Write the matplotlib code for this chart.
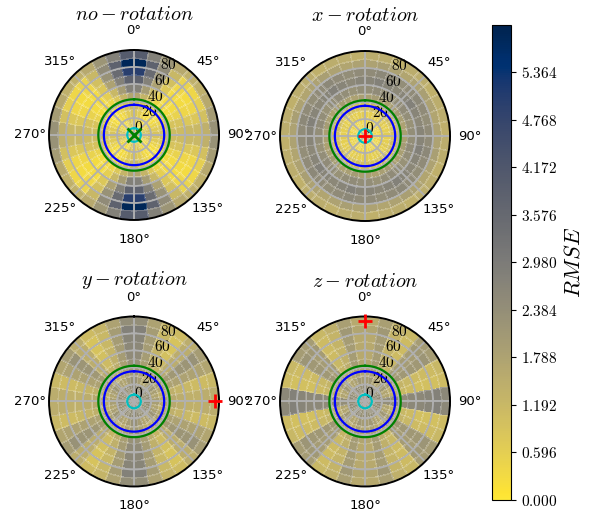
import numpy as np
import matplotlib
matplotlib.use('Agg')
import matplotlib.pyplot as plt
from matplotlib.ticker import FuncFormatter

plt.rcParams['mathtext.fontset'] = 'cm'

# ---------------- data ----------------
titles = ['$no-rotation$', '$x-rotation$', '$y-rotation$', '$z-rotation$']
theta_step_deg = 10
r_step = 10
r_max = 100
vmin, vmax = 0.0, 5.96
cbar_ticks = [0.000, 0.596, 1.192, 1.788, 2.384, 2.980, 3.576, 4.172, 4.768, 5.364]
r_ticks = [0, 20, 40, 60, 80]
circle_blue_r = 35.5
circle_green_r = 42
circle_cyan_r = 8

# marker (theta in degrees, r, marker, colour) per panel
markers = [(0, 0, 'x', 'g'), (0, 0, '+', 'r'), (90, 95, '+', 'r'), (0, 95, '+', 'r')]

# rows = radial bins (0-10 ... 90-100), columns = 10 deg theta bins clockwise from North
rmse_no_rotation = [
    [0.6,0.6,0.5,0.5,0.5,0.5,0.5,0.6,0.6, 0.6,0.6,0.5,0.5,0.5,0.5,0.5,0.6,0.6, 0.6,0.6,0.5,0.5,0.5,0.5,0.5,0.6,0.6, 0.6,0.6,0.5,0.5,0.5,0.5,0.5,0.6,0.6],
    [0.7,0.9,0.5,0.3,0.3,0.4,0.6,0.9,1.0, 1.0,0.9,0.6,0.4,0.3,0.3,0.5,0.9,0.7, 0.7,0.9,0.5,0.3,0.3,0.4,0.6,0.9,1.0, 1.0,0.9,0.6,0.4,0.3,0.3,0.5,0.9,0.7],
    [0.9,0.7,0.4,0.3,0.2,0.3,0.5,0.7,0.9, 0.9,0.7,0.5,0.3,0.2,0.3,0.4,0.7,0.9, 0.9,0.7,0.4,0.3,0.2,0.3,0.5,0.7,0.9, 0.9,0.7,0.5,0.3,0.2,0.3,0.4,0.7,0.9],
    [1.2,0.9,0.5,0.3,0.2,0.3,0.5,0.8,1.0, 1.0,0.8,0.5,0.3,0.2,0.3,0.5,0.9,1.2, 1.2,0.9,0.5,0.3,0.2,0.3,0.5,0.8,1.0, 1.0,0.8,0.5,0.3,0.2,0.3,0.5,0.9,1.2],
    [1.7,1.3,0.8,0.4,0.3,0.3,0.5,0.9,1.1, 1.1,0.9,0.5,0.3,0.3,0.4,0.8,1.3,1.7, 1.7,1.3,0.8,0.4,0.3,0.3,0.5,0.9,1.1, 1.1,0.9,0.5,0.3,0.3,0.4,0.8,1.3,1.7],
    [2.8,2.0,1.2,0.6,0.3,0.3,0.5,0.9,1.1, 1.1,0.9,0.5,0.3,0.3,0.6,1.2,2.0,2.8, 2.8,2.0,1.2,0.6,0.3,0.3,0.5,0.9,1.1, 1.1,0.9,0.5,0.3,0.3,0.6,1.2,2.0,2.8],
    [3.8,2.8,1.8,0.8,0.3,0.3,0.4,0.8,1.2, 1.2,0.8,0.4,0.3,0.3,0.8,1.8,2.8,3.8, 3.8,2.8,1.8,0.8,0.3,0.3,0.4,0.8,1.2, 1.2,0.8,0.4,0.3,0.3,0.8,1.8,2.8,3.8],
    [5.0,3.5,2.3,1.0,0.4,0.3,0.4,0.8,1.2, 1.2,0.8,0.4,0.3,0.4,1.0,2.3,3.5,5.0, 5.0,3.5,2.3,1.0,0.4,0.3,0.4,0.8,1.2, 1.2,0.8,0.4,0.3,0.4,1.0,2.3,3.5,5.0],
    [5.8,3.8,2.5,1.2,0.5,0.4,0.6,1.0,1.4, 1.4,1.0,0.6,0.4,0.5,1.2,2.5,3.8,5.8, 5.8,3.8,2.5,1.2,0.5,0.4,0.6,1.0,1.4, 1.4,1.0,0.6,0.4,0.5,1.2,2.5,3.8,5.8],
    [4.0,2.8,2.2,1.6,1.4,1.4,1.6,2.0,2.3, 2.3,2.0,1.6,1.4,1.4,1.6,2.2,2.8,4.0, 4.0,2.8,2.2,1.6,1.4,1.4,1.6,2.0,2.3, 2.3,2.0,1.6,1.4,1.4,1.6,2.2,2.8,4.0],
]

rmse_x_rotation = [
    [0.4,0.4,0.3,0.4,0.4,0.3,0.4,0.4,0.3, 0.4,0.4,0.3,0.4,0.4,0.3,0.4,0.4,0.3, 0.4,0.4,0.3,0.4,0.4,0.3,0.4,0.4,0.3, 0.4,0.4,0.3,0.4,0.4,0.3,0.4,0.4,0.3],
    [0.4,0.5,0.4,0.5,0.4,0.4,0.5,0.4,0.4, 0.4,0.5,0.4,0.5,0.4,0.4,0.5,0.4,0.4, 0.4,0.5,0.4,0.5,0.4,0.4,0.5,0.4,0.4, 0.4,0.5,0.4,0.5,0.4,0.4,0.5,0.4,0.4],
    [0.6,0.6,0.7,0.6,0.6,0.7,0.6,0.6,0.7, 0.6,0.6,0.7,0.6,0.6,0.7,0.6,0.6,0.7, 0.6,0.6,0.7,0.6,0.6,0.7,0.6,0.6,0.7, 0.6,0.6,0.7,0.6,0.6,0.7,0.6,0.6,0.7],
    [1.0,1.1,1.0,0.9,1.0,1.1,1.0,0.9,1.0, 1.0,1.1,1.0,0.9,1.0,1.1,1.0,0.9,1.0, 1.0,1.1,1.0,0.9,1.0,1.1,1.0,0.9,1.0, 1.0,1.1,1.0,0.9,1.0,1.1,1.0,0.9,1.0],
    [1.9,2.0,1.9,1.8,1.9,2.0,1.9,1.8,1.9, 1.9,2.0,1.9,1.8,1.9,2.0,1.9,1.8,1.9, 1.9,2.0,1.9,1.8,1.9,2.0,1.9,1.8,1.9, 1.9,2.0,1.9,1.8,1.9,2.0,1.9,1.8,1.9],
    [2.4,2.5,2.4,2.3,2.4,2.5,2.4,2.3,2.4, 2.4,2.5,2.4,2.3,2.4,2.5,2.4,2.3,2.4, 2.4,2.5,2.4,2.3,2.4,2.5,2.4,2.3,2.4, 2.4,2.5,2.4,2.3,2.4,2.5,2.4,2.3,2.4],
    [2.7,2.8,2.7,2.6,2.7,2.8,2.7,2.6,2.7, 2.7,2.8,2.7,2.6,2.7,2.8,2.7,2.6,2.7, 2.7,2.8,2.7,2.6,2.7,2.8,2.7,2.6,2.7, 2.7,2.8,2.7,2.6,2.7,2.8,2.7,2.6,2.7],
    [2.5,2.6,2.5,2.4,2.5,2.6,2.5,2.4,2.5, 2.5,2.6,2.5,2.4,2.5,2.6,2.5,2.4,2.5, 2.5,2.6,2.5,2.4,2.5,2.6,2.5,2.4,2.5, 2.5,2.6,2.5,2.4,2.5,2.6,2.5,2.4,2.5],
    [1.8,1.9,1.8,1.7,1.8,1.9,1.8,1.7,1.8, 1.8,1.9,1.8,1.7,1.8,1.9,1.8,1.7,1.8, 1.8,1.9,1.8,1.7,1.8,1.9,1.8,1.7,1.8, 1.8,1.9,1.8,1.7,1.8,1.9,1.8,1.7,1.8],
    [1.5,1.5,1.4,1.5,1.5,1.4,1.5,1.5,1.4, 1.5,1.5,1.4,1.5,1.5,1.4,1.5,1.5,1.4, 1.5,1.5,1.4,1.5,1.5,1.4,1.5,1.5,1.4, 1.5,1.5,1.4,1.5,1.5,1.4,1.5,1.5,1.4],
]

rmse_y_rotation = [
    [2.6,2.5,2.7,2.6,2.5,2.7,2.6,2.5,2.7, 2.6,2.5,2.7,2.6,2.5,2.7,2.6,2.5,2.7, 2.6,2.5,2.7,2.6,2.5,2.7,2.6,2.5,2.7, 2.6,2.5,2.7,2.6,2.5,2.7,2.6,2.5,2.7],
    [2.5,2.4,2.3,2.4,2.5,2.4,2.3,2.4,2.5, 2.5,2.4,2.3,2.4,2.5,2.4,2.3,2.4,2.5, 2.5,2.4,2.3,2.4,2.5,2.4,2.3,2.4,2.5, 2.5,2.4,2.3,2.4,2.5,2.4,2.3,2.4,2.5],
    [2.3,2.0,1.7,1.8,2.1,2.2,1.9,1.7,1.9, 1.9,1.7,1.9,2.2,2.1,1.8,1.7,2.0,2.3, 2.3,2.0,1.7,1.8,2.1,2.2,1.9,1.7,1.9, 1.9,1.7,1.9,2.2,2.1,1.8,1.7,2.0,2.3],
    [2.1,1.8,1.5,1.5,1.7,1.9,1.7,1.4,1.6, 1.6,1.4,1.7,1.9,1.7,1.5,1.5,1.8,2.1, 2.1,1.8,1.5,1.5,1.7,1.9,1.7,1.4,1.6, 1.6,1.4,1.7,1.9,1.7,1.5,1.5,1.8,2.1],
    [2.3,1.9,1.5,1.3,1.6,2.0,1.8,1.4,1.6, 1.6,1.4,1.8,2.0,1.6,1.3,1.5,1.9,2.3, 2.3,1.9,1.5,1.3,1.6,2.0,1.8,1.4,1.6, 1.6,1.4,1.8,2.0,1.6,1.3,1.5,1.9,2.3],
    [2.5,2.0,1.4,1.1,1.5,2.1,1.8,1.3,1.5, 1.5,1.3,1.8,2.1,1.5,1.1,1.4,2.0,2.5, 2.5,2.0,1.4,1.1,1.5,2.1,1.8,1.3,1.5, 1.5,1.3,1.8,2.1,1.5,1.1,1.4,2.0,2.5],
    [2.6,2.0,1.3,1.0,1.5,2.2,1.8,1.2,1.4, 1.4,1.2,1.8,2.2,1.5,1.0,1.3,2.0,2.6, 2.6,2.0,1.3,1.0,1.5,2.2,1.8,1.2,1.4, 1.4,1.2,1.8,2.2,1.5,1.0,1.3,2.0,2.6],
    [2.7,2.0,1.2,0.9,1.5,2.2,1.8,1.1,1.4, 1.4,1.1,1.8,2.2,1.5,0.9,1.2,2.0,2.7, 2.7,2.0,1.2,0.9,1.5,2.2,1.8,1.1,1.4, 1.4,1.1,1.8,2.2,1.5,0.9,1.2,2.0,2.7],
    [2.8,2.0,1.2,0.9,1.5,2.3,1.8,1.1,1.5, 1.5,1.1,1.8,2.3,1.5,0.9,1.2,2.0,2.8, 2.8,2.0,1.2,0.9,1.5,2.3,1.8,1.1,1.5, 1.5,1.1,1.8,2.3,1.5,0.9,1.2,2.0,2.8],
    [2.4,1.8,1.3,1.1,1.5,2.0,1.7,1.2,1.5, 1.5,1.2,1.7,2.0,1.5,1.1,1.3,1.8,2.4, 2.4,1.8,1.3,1.1,1.5,2.0,1.7,1.2,1.5, 1.5,1.2,1.7,2.0,1.5,1.1,1.3,1.8,2.4],
]

rmse_z_rotation = [
    [2.5,2.6,2.4,2.5,2.6,2.4,2.5,2.6,2.4, 2.5,2.6,2.4,2.5,2.6,2.4,2.5,2.6,2.4, 2.5,2.6,2.4,2.5,2.6,2.4,2.5,2.6,2.4, 2.5,2.6,2.4,2.5,2.6,2.4,2.5,2.6,2.4],
    [2.4,2.3,2.4,2.5,2.4,2.3,2.4,2.5,2.4, 2.4,2.5,2.4,2.3,2.4,2.5,2.4,2.3,2.4, 2.4,2.3,2.4,2.5,2.4,2.3,2.4,2.5,2.4, 2.4,2.5,2.4,2.3,2.4,2.5,2.4,2.3,2.4],
    [2.0,2.1,1.8,1.7,2.0,2.1,1.7,1.7,2.4, 2.4,1.7,1.7,2.1,2.0,1.7,1.8,2.1,2.0, 2.0,2.1,1.8,1.7,2.0,2.1,1.7,1.7,2.4, 2.4,1.7,1.7,2.1,2.0,1.7,1.8,2.1,2.0],
    [1.7,1.9,1.6,1.5,1.9,2.0,1.5,1.4,2.4, 2.4,1.4,1.5,2.0,1.9,1.5,1.6,1.9,1.7, 1.7,1.9,1.6,1.5,1.9,2.0,1.5,1.4,2.4, 2.4,1.4,1.5,2.0,1.9,1.5,1.6,1.9,1.7],
    [1.7,2.0,1.5,1.3,2.0,2.1,1.3,1.2,2.5, 2.5,1.2,1.3,2.1,2.0,1.3,1.5,2.0,1.7, 1.7,2.0,1.5,1.3,2.0,2.1,1.3,1.2,2.5, 2.5,1.2,1.3,2.1,2.0,1.3,1.5,2.0,1.7],
    [1.6,2.0,1.4,1.2,2.0,2.1,1.2,1.1,2.6, 2.6,1.1,1.2,2.1,2.0,1.2,1.4,2.0,1.6, 1.6,2.0,1.4,1.2,2.0,2.1,1.2,1.1,2.6, 2.6,1.1,1.2,2.1,2.0,1.2,1.4,2.0,1.6],
    [1.6,2.0,1.3,1.1,2.0,2.1,1.1,1.0,2.6, 2.6,1.0,1.1,2.1,2.0,1.1,1.3,2.0,1.6, 1.6,2.0,1.3,1.1,2.0,2.1,1.1,1.0,2.6, 2.6,1.0,1.1,2.1,2.0,1.1,1.3,2.0,1.6],
    [1.6,2.0,1.3,1.1,2.0,2.1,1.1,1.0,2.7, 2.7,1.0,1.1,2.1,2.0,1.1,1.3,2.0,1.6, 1.6,2.0,1.3,1.1,2.0,2.1,1.1,1.0,2.7, 2.7,1.0,1.1,2.1,2.0,1.1,1.3,2.0,1.6],
    [1.7,2.1,1.3,1.1,2.1,2.2,1.1,1.0,2.8, 2.8,1.0,1.1,2.2,2.1,1.1,1.3,2.1,1.7, 1.7,2.1,1.3,1.1,2.1,2.2,1.1,1.0,2.8, 2.8,1.0,1.1,2.2,2.1,1.1,1.3,2.1,1.7],
    [1.6,1.9,1.4,1.2,2.0,2.0,1.2,1.1,2.6, 2.6,1.1,1.2,2.0,2.0,1.2,1.4,1.9,1.6, 1.6,1.9,1.4,1.2,2.0,2.0,1.2,1.1,2.6, 2.6,1.1,1.2,2.0,2.0,1.2,1.4,1.9,1.6],
]

datasets = [rmse_no_rotation, rmse_x_rotation, rmse_y_rotation, rmse_z_rotation]

# ---------------- plotting ----------------
theta_edges = np.deg2rad(np.arange(0, 360 + theta_step_deg, theta_step_deg))
r_edges = np.arange(0, r_max + r_step, r_step)
cmap = plt.get_cmap('cividis_r')

fig = plt.figure(figsize=(5.92, 5.11), dpi=100)
rects = [
    [0.0828, 0.5695, 0.2872, 0.3327],
    [0.4730, 0.5675, 0.2872, 0.3327],
    [0.0828, 0.0480, 0.2872, 0.3327],
    [0.4730, 0.0480, 0.2872, 0.3327],
]
circ_t = np.linspace(0, 2 * np.pi, 361)

mesh = None
for rect, data, title, mk in zip(rects, datasets, titles, markers):
    ax = fig.add_axes(rect, projection='polar')
    ax.set_theta_zero_location('N')
    ax.set_theta_direction(-1)
    mesh = ax.pcolormesh(theta_edges, r_edges, np.array(data), cmap=cmap,
                         vmin=vmin, vmax=vmax, shading='flat',
                         edgecolors=(1, 1, 1, 0.18), linewidth=0.3)
    ax.set_ylim(0, r_max)
    ax.set_rticks(r_ticks)
    ax.yaxis.set_major_formatter(FuncFormatter(lambda v, p: f'${int(v)}$'))
    ax.tick_params(axis='y', labelsize=11)
    ax.tick_params(axis='x', labelsize=9.5, pad=3.5)
    ax.grid(True, color='#b0b0b0', linewidth=1.3)
    ax.spines['polar'].set_linewidth(1.4)
    ax.plot(circ_t, np.full_like(circ_t, circle_green_r), color='green', lw=1.6, zorder=3)
    ax.plot(circ_t, np.full_like(circ_t, circle_blue_r), color='blue', lw=1.6, zorder=3)
    ax.plot(circ_t, np.full_like(circ_t, circle_cyan_r), color='c', lw=1.6, zorder=3)
    ax.plot(np.deg2rad(mk[0]), mk[1], marker=mk[2], color=mk[3], markersize=10,
            mew=2, zorder=4, clip_on=False)
    ax.set_title(title, fontsize=14.5, pad=2)

cax = fig.add_axes([0.831, 0.0215, 0.032, 0.93])
cb = fig.colorbar(mesh, cax=cax, ticks=cbar_ticks,
                  format=FuncFormatter(lambda v, p: f'${v:.3f}$'))
cb.ax.tick_params(labelsize=11)
cb.set_label('$RMSE$', fontsize=16, labelpad=5)

fig.savefig('out.png', dpi=100)
